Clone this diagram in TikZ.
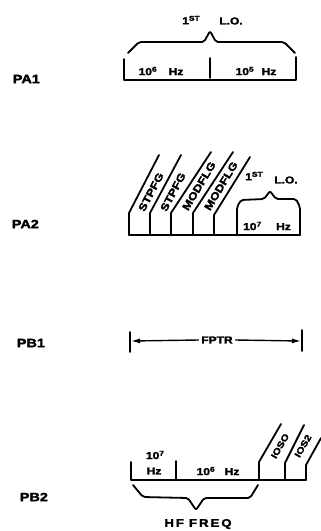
\documentclass[tikz,border=0pt]{standalone}
\usepackage{fontspec}
\setmainfont{Liberation Sans}[FakeStretch=1.2,BoldFeatures={FakeBold=2.5}]
\usetikzlibrary{arrows.meta}
\newcommand{\upx}[1]{\raisebox{3.4pt}{\fontsize{7}{8}\selectfont #1}}
\begin{document}
\begin{tikzpicture}[x=1pt,y=-1pt,line width=1.8pt,line join=round,line cap=round,
  lab/.style={font=\fontsize{12}{14}\selectfont\bfseries,inner sep=0pt},
  txt/.style={font=\fontsize{10}{12}\selectfont\bfseries,inner sep=0pt},
  rot/.style={font=\fontsize{10.5}{13}\selectfont\bfseries,inner sep=0pt},
  small/.style={font=\fontsize{9}{11}\selectfont\bfseries,inner sep=0pt},
  bracket/.style={rounded corners=2pt}]
\useasboundingbox (0,0) rectangle (321,531);
% ---------- PA1
\node[lab,anchor=west] (pa1) at (12,79) {PA1};
\draw (124,59) -- (124,80) -- (296,80) -- (296,57);
\draw (210,58) -- (210,78);
\draw[bracket] (128,53) -- (139,42) -- (204,42) -- (210,31) -- (216,42) -- (284,42) -- (295,53);
\node[txt] (a1) at (161,71) {10\upx{6}\hspace{12pt}Hz};
\node[txt] (a2) at (256,71) {10\upx{5}\hspace{8pt}Hz};
\node[txt] (lo1a) at (191,20) {1\upx{ST}};
\node[txt] (lo1b) at (231,21) {L.O.};
% ---------- PA2
\node[lab,anchor=west] (pa2) at (11,224) {PA2};
\draw (129,235) -- (300,235);
\draw (129,235) -- (129,213) -- (159,155);
\draw (150,235) -- (150,213) -- (181,155);
\draw (171,235) -- (171,213) -- (211,152);
\draw (193,235) -- (193,213) -- (233,152);
\draw (214,235) -- (214,215) -- (250,157);
\draw[bracket] (237,235) -- (237,207) -- (241,200) -- (264,199) -- (270,191) -- (276,199) -- (296,199) -- (300,207) -- (300,235);
\node[rot,rotate=62] (s1) at (151,192) {STPFG};
\node[rot,rotate=62] (s2) at (173,192) {STPFG};
\node[rot,rotate=59] (m1) at (199,186) {MODFLG};
\node[rot,rotate=59] (m2) at (221,186) {MODFLG};
\node[txt] (lo2a) at (254,176) {1\upx{ST}};
\node[txt] (lo2b) at (286,180) {L.O.};
\node[txt] (b1) at (267,226) {10\upx{7}\hspace{15pt}Hz};
% ---------- PB1
\node[lab,anchor=west] (pb1) at (16,343) {PB1};
\coordinate (l1) at (131,341);
\coordinate (r1) at (301,341);
\draw (130,332) -- (130,352);
\draw (302,330) -- (302,351);
\node[font=\fontsize{10}{12}\selectfont\bfseries,inner sep=0pt] (fptr) at (217,340) {FPTR};
\draw[line width=1.4pt,-{Latex[length=9pt,width=5pt]}] ([xshift=-2pt]fptr.west) -- (l1);
\draw[line width=1.4pt,-{Latex[length=9pt,width=5pt]}] ([xshift=2pt]fptr.east) -- (r1);
% ---------- PB2
\node[lab,anchor=west] (pb2) at (19,497) {PB2};
\draw (131,462) -- (131,480) -- (306,480);
\draw (176,461) -- (176,480);
\draw (259,480) -- (259,462) -- (281,424);
\draw (285,480) -- (285,463) -- (304,425);
\draw (306,480) -- (306,465) -- (321,438);
\draw[bracket] (133,485) -- (143,497) -- (188,498) -- (196,510) -- (204,498) -- (250,498) -- (258,485);
\node[txt] (c1) at (155,455) {10\upx{7}};
\node[txt] (c2) at (154,471) {Hz};
\node[txt] (c3) at (218,471) {10\upx{6}\hspace{10pt}Hz};
\node[small,rotate=60] (i1) at (280,446) {IOSO};
\node[small,rotate=60] (i2) at (303,446) {IOS2};
\node[font=\fontsize{11}{13}\selectfont\bfseries,inner sep=0pt] (hf) at (198,524) {\addfontfeatures{LetterSpace=18}HF\hspace{5pt}FREQ};
\end{tikzpicture}
\end{document}
